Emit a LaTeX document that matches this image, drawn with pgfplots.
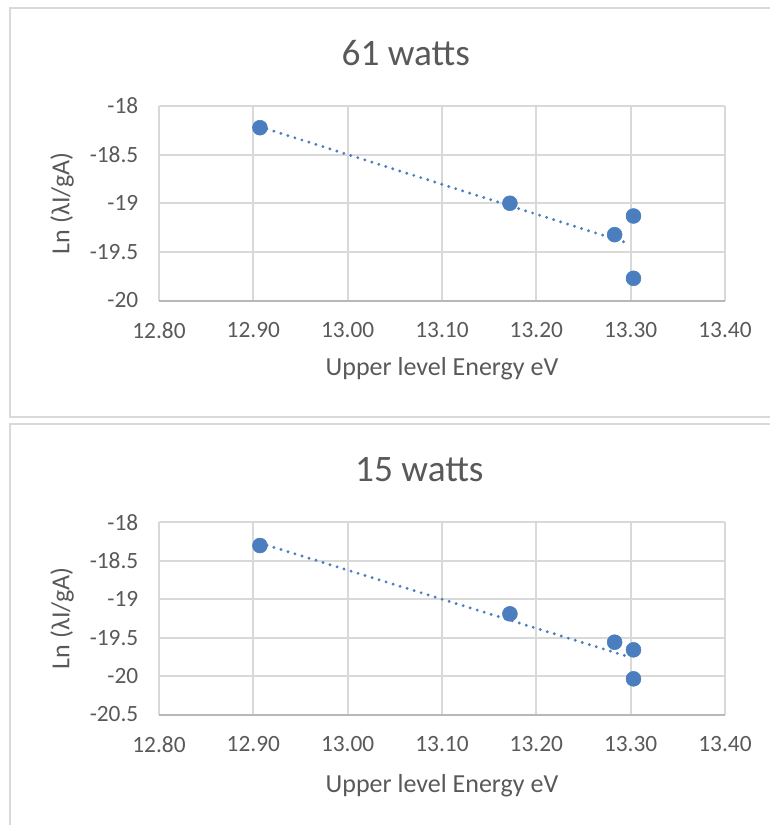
\documentclass[border=0pt]{standalone}
\usepackage{fontspec}
\setmainfont{Carlito}
\usepackage{pgfplots}
\pgfplotsset{compat=1.18}
\definecolor{pt}{HTML}{4A7EBF}
\definecolor{grd}{HTML}{D9D9D9}
\definecolor{txt}{HTML}{595959}

% 1 px of the reference = 0.75pt
\def\px{0.75pt}

\pgfplotsset{
  panel/.style={
    scale only axis, width=566*\px,
    xmin=12.8, xmax=13.4, xtick={12.8,12.9,...,13.41},
    xticklabel={\pgfmathprintnumber[fixed,fixed zerofill,precision=2]{\tick}},
    /pgf/number format/assume math mode=true,
    grid=both, grid style={grd, line width=1.5pt},
    axis x line*=bottom, axis y line*=left,
    x axis line style={draw=grd!85!black, line width=1.5pt, -},
    y axis line style={draw=none},
    major tick length=0pt,
    tick label style={font=\fontsize{17.5pt}{20pt}\selectfont, text=txt},
    yticklabel style={xshift=-12pt},
    xticklabel style={yshift=-13pt},
    label style={font=\fontsize{19.5pt}{22pt}\selectfont, text=txt},
    title style={font=\fontsize{28pt}{32pt}\selectfont, text=txt, anchor=center},
    xlabel={Upper level Energy eV},
    ylabel={Ln (λI/gA)},
    clip=false,
  },
  pts/.style={only marks, mark=*, mark size=5.6pt, mark options={fill=pt, draw=pt}},
  trend/.style={pt, line width=2.4pt, line cap=round, dash pattern=on 0pt off 5.5pt},
}

\begin{document}
\begin{tikzpicture}
\useasboundingbox (0,0) rectangle (769*\px,-825*\px);
\draw[grd, line width=1.5pt] (9.8*\px,-7.5*\px) rectangle (790*\px,-417.3*\px);
\draw[grd, line width=1.5pt] (9.8*\px,-423.5*\px) rectangle (790*\px,-840*\px);

% 61 watts
\begin{axis}[panel,
  at={(159*\px,-300.5*\px)}, anchor=south west, height=194.5*\px,
  ymin=-20, ymax=-18, ytick={-20,-19.5,...,-18},
  title={61 watts},
  title style={at={(axis description cs:0.436,1.231)}},
  xlabel style={at={(axis description cs:0.5,-0.352)}, anchor=center},
  ylabel style={at={(axis description cs:-0.171,0.5)}, anchor=center},
]
\addplot[trend] coordinates {(12.907,-18.213) (13.297,-19.41)};
\addplot[pts] coordinates {
  (12.907,-18.223) (13.172,-19.000) (13.283,-19.323) (13.303,-19.131) (13.303,-19.772)};
\end{axis}

% 15 watts
\begin{axis}[panel,
  at={(159*\px,-714.5*\px)}, anchor=south west, height=192.3*\px,
  ymin=-20.5, ymax=-18, ytick={-20.5,-20,...,-18},
  title={15 watts},
  title style={at={(axis description cs:0.46,1.23)}},
  xlabel style={at={(axis description cs:0.5,-0.368)}, anchor=center},
  ylabel style={at={(axis description cs:-0.171,0.5)}, anchor=center},
]
\addplot[trend] coordinates {(12.907,-18.271) (13.297,-19.746)};
\addplot[pts] coordinates {
  (12.907,-18.303) (13.172,-19.191) (13.283,-19.560) (13.303,-19.659) (13.303,-20.036)};
\end{axis}
\end{tikzpicture}
\end{document}
